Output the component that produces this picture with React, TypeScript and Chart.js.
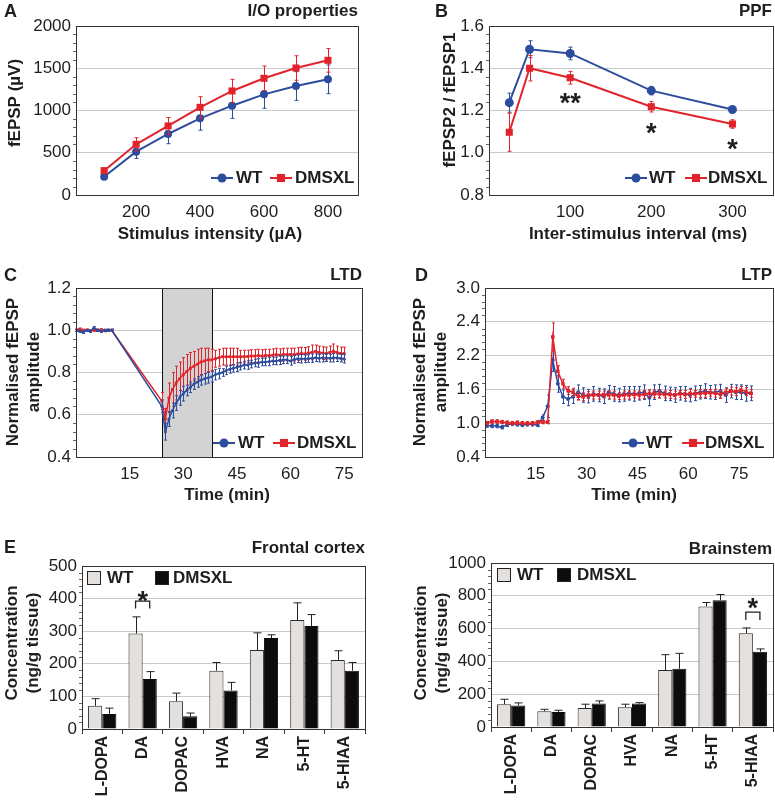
import React, { useEffect, useRef } from 'react';
import { Chart, registerables } from 'chart.js';

Chart.register(...registerables);

const FONT = "'Liberation Sans', Arial, Helvetica, sans-serif";
const INK = '#1e1e1e';
const BLUE = '#2c4d9e';
const RED = '#e1232b';
const GRID = '#c9c9c9';
const AXIS = '#333333';

// ---------- Panel A: I/O properties ----------
const A_X = [100, 200, 300, 400, 500, 600, 700, 800];
const A_WT = [217, 513, 722, 907, 1057, 1191, 1290, 1369];
const A_WT_ERR = [25, 80, 115, 140, 150, 165, 170, 170];
const A_DM = [288, 600, 817, 1037, 1231, 1381, 1503, 1594];
const A_DM_ERR = [30, 78, 100, 127, 138, 145, 145, 140];
const A_X_TICKS = [200, 400, 600, 800];
const A_Y_TICKS = [0, 500, 1000, 1500, 2000];

// ---------- Panel B: PPF ----------
const B_X = [25, 50, 100, 200, 300];
const B_WT = [1.237, 1.49, 1.47, 1.294, 1.205];
const B_WT_ERR = [0.045, 0.04, 0.03, 0.02, 0.012];
const B_DM = [1.097, 1.4, 1.355, 1.218, 1.136];
const B_DM_ERR = [0.09, 0.06, 0.03, 0.025, 0.02];
const B_X_TICKS = [100, 200, 300];
const B_Y_TICKS = [0.8, 1.0, 1.2, 1.4, 1.6];
const B_STARS = [
  { x: 100, y: 1.266, text: '**' },
  { x: 200, y: 1.127, text: '*' },
  { x: 300, y: 1.05, text: '*' },
];

// ---------- Panel C: LTD ----------
const C_T = [
  0, 1, 2, 3, 4, 5, 6, 7, 8, 9, 10,
  24, 25, 26, 27, 28, 29, 30, 31, 32, 33,
  34, 35, 36, 37, 38, 39, 40, 41, 42, 43,
  44, 45, 46, 47, 48, 49, 50, 51, 52, 53,
  54, 55, 56, 57, 58, 59, 60, 61, 62, 63,
  64, 65, 66, 67, 68, 69, 70, 71, 72, 73,
  74, 75,
];
const C_WT = [
  1.0, 0.995, 0.99, 1.0, 0.995, 1.012, 1.0, 0.995, 1.0, 1.0, 1.0,
  0.64, 0.52, 0.58, 0.62, 0.655, 0.68, 0.7, 0.715, 0.73, 0.745,
  0.755, 0.765, 0.77, 0.775, 0.78, 0.79, 0.795, 0.8, 0.81, 0.815,
  0.82, 0.825, 0.83, 0.835, 0.835, 0.84, 0.845, 0.845, 0.85, 0.85,
  0.852, 0.855, 0.855, 0.858, 0.86, 0.86, 0.855, 0.862, 0.865, 0.865,
  0.865, 0.866, 0.868, 0.87, 0.868, 0.87, 0.87, 0.868, 0.87, 0.87,
  0.868, 0.865,
];
const C_WT_ERR = [
  0.005, 0.005, 0.005, 0.005, 0.005, 0.005, 0.005, 0.005, 0.005, 0.005, 0.005,
  0.03, 0.04, 0.035, 0.035, 0.035, 0.035, 0.035, 0.025, 0.025, 0.025,
  0.025, 0.025, 0.025, 0.025, 0.025, 0.025, 0.025, 0.018, 0.02, 0.018,
  0.018, 0.02, 0.018, 0.018, 0.02, 0.018, 0.018, 0.02, 0.018, 0.018,
  0.02, 0.018, 0.018, 0.02, 0.018, 0.018, 0.02, 0.018, 0.018, 0.02,
  0.018, 0.018, 0.02, 0.018, 0.018, 0.02, 0.018, 0.018, 0.02, 0.018,
  0.018, 0.02,
];
const C_DM = [
  1.0, 1.005, 1.0, 1.0, 0.998, 1.0, 1.0, 1.002, 0.998, 1.0, 1.0,
  0.665, 0.58, 0.68, 0.72, 0.75, 0.77, 0.79, 0.805, 0.82, 0.83,
  0.84, 0.85, 0.855, 0.86, 0.86, 0.865, 0.87, 0.875, 0.875, 0.875,
  0.875, 0.875, 0.875, 0.875, 0.876, 0.878, 0.878, 0.88, 0.878, 0.88,
  0.88, 0.882, 0.885, 0.882, 0.885, 0.885, 0.885, 0.885, 0.888, 0.89,
  0.888, 0.892, 0.895, 0.9, 0.895, 0.892, 0.89, 0.895, 0.9, 0.895,
  0.89, 0.89,
];
const C_DM_ERR = [
  0.005, 0.005, 0.005, 0.005, 0.005, 0.005, 0.005, 0.005, 0.005, 0.005, 0.005,
  0.04, 0.05, 0.07, 0.08, 0.08, 0.08, 0.08, 0.08, 0.075, 0.07,
  0.07, 0.065, 0.06, 0.055, 0.05, 0.04, 0.04, 0.04, 0.04, 0.04,
  0.04, 0.04, 0.03, 0.03, 0.03, 0.03, 0.03, 0.03, 0.03, 0.03,
  0.03, 0.03, 0.03, 0.03, 0.03, 0.03, 0.03, 0.03, 0.03, 0.03,
  0.03, 0.03, 0.035, 0.03, 0.03, 0.03, 0.03, 0.03, 0.035, 0.03,
  0.03, 0.03,
];
const C_X_TICKS = [15, 30, 45, 60, 75];
const C_Y_TICKS = [0.4, 0.6, 0.8, 1.0, 1.2];
const C_BAND = [24, 38];

// ---------- Panel D: LTP ----------
const D_T = [
  0.5, 2, 3.5, 5, 6.5, 8, 9.5, 11, 12.5, 14, 15.5, 17, 18.5,
  20, 21.5, 23, 24.5, 26, 27.5, 29, 30.5, 32, 33.5, 35, 36.5, 38, 39.5,
  41, 42.5, 44, 45.5, 47, 48.5, 50, 51.5, 53, 54.5, 56, 57.5, 59, 60.5,
  62, 63.5, 65, 66.5, 68, 69.5, 71, 72.5, 74, 75.5, 77, 78.5,
];
const D_WT = [
  0.96, 0.95, 0.95, 0.93, 0.97, 0.99, 0.98, 0.97, 0.98, 0.98, 0.97, 1.1, 1.3,
  2.12, 1.7, 1.47, 1.43, 1.47, 1.55, 1.5, 1.48, 1.52, 1.5, 1.48, 1.55, 1.52, 1.5,
  1.52, 1.53, 1.52, 1.53, 1.55, 1.45, 1.55, 1.57, 1.53, 1.52, 1.5, 1.53, 1.52, 1.5,
  1.53, 1.55, 1.57, 1.55, 1.55, 1.57, 1.5, 1.57, 1.55, 1.55, 1.53, 1.53,
];
const D_WT_ERR = [
  0.03, 0.03, 0.03, 0.03, 0.03, 0.03, 0.03, 0.03, 0.03, 0.03, 0.03, 0.05, 0.2,
  0.2, 0.15, 0.12, 0.12, 0.12, 0.13, 0.13, 0.12, 0.13, 0.12, 0.13, 0.12, 0.13, 0.12,
  0.13, 0.12, 0.13, 0.12, 0.13, 0.14, 0.13, 0.12, 0.13, 0.12, 0.13, 0.12, 0.13, 0.12,
  0.13, 0.12, 0.13, 0.12, 0.13, 0.12, 0.13, 0.12, 0.13, 0.13, 0.14, 0.13,
];
const D_DM = [
  1.0, 1.03, 1.03, 1.02, 1.01, 1.0, 1.01, 1.0, 1.0, 1.0, 1.02, 1.02, 1.02,
  2.53, 1.92, 1.7, 1.58, 1.55, 1.48, 1.47, 1.5, 1.5, 1.5, 1.51, 1.5, 1.5, 1.48,
  1.5, 1.5, 1.51, 1.5, 1.51, 1.53, 1.52, 1.52, 1.51, 1.51, 1.5, 1.52, 1.51, 1.53,
  1.52, 1.53, 1.53, 1.54, 1.53, 1.51, 1.55, 1.57, 1.56, 1.59, 1.56, 1.53,
];
const D_DM_ERR = [
  0.03, 0.03, 0.03, 0.03, 0.03, 0.03, 0.03, 0.03, 0.03, 0.03, 0.03, 0.03, 0.03,
  0.25, 0.1, 0.08, 0.07, 0.07, 0.07, 0.07, 0.06, 0.07, 0.07, 0.06, 0.07, 0.07, 0.06,
  0.07, 0.07, 0.06, 0.07, 0.07, 0.06, 0.07, 0.07, 0.06, 0.07, 0.07, 0.06, 0.07, 0.07,
  0.06, 0.07, 0.07, 0.06, 0.07, 0.07, 0.06, 0.07, 0.07, 0.06, 0.07, 0.07,
];
const D_X_TICKS = [15, 30, 45, 60, 75];
const D_Y_TICKS = [0.4, 1.0, 1.6, 2.2, 2.8, 3.4];
const D_Y_LABELS = ['0.4', '1.0', '1.6', '2.2', '2.4', '3.0'];

// ---------- Panel E: monoamines ----------
const E_CATS = ['L-DOPA', 'DA', 'DOPAC', 'HVA', 'NA', '5-HT', '5-HIAA'];
const EF_WT = [71, 293, 85, 179, 242, 334, 212];
const EF_WT_ERR = [22, 51, 25, 25, 53, 53, 28];
const EF_DM = [46, 153, 39, 118, 279, 316, 179];
const EF_DM_ERR = [18, 23, 10, 25, 10, 35, 25];
const EF_Y_TICKS = [0, 100, 200, 300, 400, 500];
const EF_SIG = [{ index: 1, top: 392, leg: 370, star: 413 }];
const EB_WT = [139, 96, 116, 120, 347, 735, 571];
const EB_WT_ERR = [30, 12, 23, 19, 94, 24, 33];
const EB_DM = [131, 92, 143, 143, 355, 773, 459];
const EB_DM_ERR = [16, 10, 16, 6, 94, 35, 17];
const EB_Y_TICKS = [0, 200, 400, 600, 800, 1000];
const EB_SIG = [{ index: 6, top: 700, leg: 653, star: 765 }];

// ---------- layout ----------
type Area = { l: number; r: number; t: number; b: number };
type Panel = { left: number; top: number; w: number; h: number; area: Area };
const PANELS: Panel[] = [
  { left: 0, top: 0, w: 385, h: 265, area: { l: 76, r: 358, t: 26, b: 195 } },
  { left: 385, top: 0, w: 390, h: 265, area: { l: 104, r: 388, t: 26, b: 195 } },
  { left: 0, top: 265, w: 385, h: 255, area: { l: 76, r: 362, t: 23, b: 192 } },
  { left: 385, top: 265, w: 390, h: 255, area: { l: 100, r: 388, t: 23, b: 192 } },
  { left: 0, top: 520, w: 385, h: 280, area: { l: 82, r: 365, t: 46, b: 209 } },
  { left: 385, top: 520, w: 390, h: 280, area: { l: 106, r: 388, t: 43, b: 207 } },
];

type TextItem = { text: string; x: number; y: number; align?: CanvasTextAlign; size?: number; rot?: boolean };
type LegendItem = { x: number; tx: number; text: string; color: string; marker: 'circle' | 'rect' | 'box' };
type DecorCfg = {
  band?: number[];
  errMode: 'both' | 'up';
  cap: number;
  errColor?: string;
  legend?: { y: number; items: LegendItem[]; mk: number };
  texts: TextItem[];
  stars?: { x: number; y: number; text: string }[];
  starSize?: number;
  sig?: { index: number; top: number; leg: number; star: number }[];
};

function drawText(ctx: CanvasRenderingContext2D, t: TextItem) {
  ctx.save();
  ctx.font = `bold ${t.size ?? 17}px ${FONT}`;
  ctx.fillStyle = INK;
  ctx.textAlign = t.align ?? 'center';
  ctx.textBaseline = 'middle';
  ctx.translate(t.x, t.y);
  if (t.rot) ctx.rotate(-Math.PI / 2);
  ctx.fillText(t.text, 0, 0);
  ctx.restore();
}

function drawErrors(chart: any, index: number, cfg: DecorCfg) {
  const ds: any = chart.data.datasets[index];
  if (!ds.errors) return;
  const meta = chart.getDatasetMeta(index);
  const ys = chart.scales.y;
  const ctx: CanvasRenderingContext2D = chart.ctx;
  ctx.save();
  ctx.strokeStyle = cfg.errColor ?? ds.borderColor;
  ctx.lineWidth = 1;
  meta.data.forEach((el: any, j: number) => {
    const raw = ds.data[j];
    const v = typeof raw === 'object' ? raw.y : raw;
    const e = ds.errors[j];
    const top = ys.getPixelForValue(v + e);
    const bot = cfg.errMode === 'up' ? ys.getPixelForValue(v) : ys.getPixelForValue(v - e);
    const x = Math.round(el.x) + 0.5;
    ctx.beginPath();
    ctx.moveTo(x, top);
    ctx.lineTo(x, bot);
    ctx.moveTo(x - cfg.cap, top);
    ctx.lineTo(x + cfg.cap, top);
    if (cfg.errMode !== 'up') {
      ctx.moveTo(x - cfg.cap, bot);
      ctx.lineTo(x + cfg.cap, bot);
    }
    ctx.stroke();
  });
  ctx.restore();
}

function makeDecor(cfg: DecorCfg) {
  return {
    id: 'decor',
    beforeDatasetsDraw(chart: any) {
      if (!cfg.band) return;
      const { ctx, chartArea: ca } = chart;
      const xs = chart.scales.x;
      const x1 = Math.round(xs.getPixelForValue(cfg.band[0]));
      const x2 = Math.round(xs.getPixelForValue(cfg.band[1]));
      ctx.save();
      ctx.fillStyle = '#d3d3d3';
      ctx.fillRect(x1, ca.top, x2 - x1, ca.bottom - ca.top);
      ctx.strokeStyle = '#111';
      ctx.lineWidth = 1;
      ctx.beginPath();
      ctx.moveTo(x1 + 0.5, ca.top);
      ctx.lineTo(x1 + 0.5, ca.bottom);
      ctx.moveTo(x2 + 0.5, ca.top);
      ctx.lineTo(x2 + 0.5, ca.bottom);
      ctx.stroke();
      ctx.restore();
    },
    beforeDatasetDraw(chart: any, args: any) {
      if (cfg.errMode === 'both') drawErrors(chart, args.index, cfg);
    },
    afterDatasetDraw(chart: any, args: any) {
      if (cfg.errMode === 'up') drawErrors(chart, args.index, cfg);
    },
    afterDraw(chart: any) {
      const ctx: CanvasRenderingContext2D = chart.ctx;
      const ca = chart.chartArea;
      const ys = chart.scales.y;
      ctx.save();
      // frame
      ctx.strokeStyle = AXIS;
      ctx.lineWidth = 1;
      ctx.strokeRect(ca.left + 0.5, ca.top + 0.5, ca.right - ca.left, ca.bottom - ca.top);
      // minor ticks on the value axis
      ctx.strokeStyle = '#666';
      ctx.beginPath();
      const tv = ys.ticks.map((t: any) => t.value);
      for (let i = 0; i < tv.length - 1; i++) {
        const p0 = ys.getPixelForValue(tv[i]);
        const p1 = ys.getPixelForValue(tv[i + 1]);
        for (let k = 1; k < 5; k++) {
          const y = Math.round(p0 + ((p1 - p0) * k) / 5) + 0.5;
          ctx.moveTo(ca.left - 3, y);
          ctx.lineTo(ca.left, y);
        }
      }
      ctx.stroke();
      ctx.restore();

      // significance brackets (bar panels)
      if (cfg.sig) {
        const m0 = chart.getDatasetMeta(0);
        const m1 = chart.getDatasetMeta(1);
        cfg.sig.forEach((s) => {
          const x1 = m0.data[s.index].x;
          const x2 = m1.data[s.index].x;
          const yt = ys.getPixelForValue(s.top);
          const yl = ys.getPixelForValue(s.leg);
          ctx.save();
          ctx.strokeStyle = '#222';
          ctx.lineWidth = 1.3;
          ctx.beginPath();
          ctx.moveTo(x1, yl);
          ctx.lineTo(x1, yt);
          ctx.lineTo(x2, yt);
          ctx.lineTo(x2, yl);
          ctx.stroke();
          ctx.restore();
          const size = cfg.starSize ?? 26;
          ctx.save();
          ctx.font = `bold ${size}px ${FONT}`;
          ctx.fillStyle = INK;
          ctx.textAlign = 'center';
          ctx.textBaseline = 'alphabetic';
          ctx.fillText('*', (x1 + x2) / 2, ys.getPixelForValue(s.star) + size * 0.58);
          ctx.restore();
        });
      }
      // stars in data coordinates
      if (cfg.stars) {
        const xs = chart.scales.x;
        const size = cfg.starSize ?? 26;
        ctx.save();
        ctx.font = `bold ${size}px ${FONT}`;
        ctx.fillStyle = INK;
        ctx.textAlign = 'center';
        ctx.textBaseline = 'alphabetic';
        cfg.stars.forEach((s) => {
          ctx.fillText(s.text, xs.getPixelForValue(s.x), ys.getPixelForValue(s.y) + size * 0.58);
        });
        ctx.restore();
      }
      // legend
      if (cfg.legend) {
        const lg = cfg.legend;
        lg.items.forEach((it) => {
          ctx.save();
          if (it.marker === 'box') {
            ctx.fillStyle = it.color;
            ctx.fillRect(it.x, lg.y - 7, 14, 14);
            ctx.strokeStyle = '#222';
            ctx.lineWidth = 1;
            ctx.strokeRect(it.x + 0.5, lg.y - 6.5, 13, 13);
          } else {
            ctx.strokeStyle = it.color;
            ctx.fillStyle = it.color;
            ctx.lineWidth = 2;
            ctx.beginPath();
            ctx.moveTo(it.x, lg.y);
            ctx.lineTo(it.x + 22, lg.y);
            ctx.stroke();
            const cx = it.x + 11;
            if (it.marker === 'circle') {
              ctx.beginPath();
              ctx.arc(cx, lg.y, lg.mk, 0, Math.PI * 2);
              ctx.fill();
            } else {
              const s = lg.mk * 0.9;
              ctx.fillRect(cx - s, lg.y - s, 2 * s, 2 * s);
            }
          }
          ctx.restore();
          drawText(ctx, { text: it.text, x: it.tx, y: lg.y, align: 'left', size: 17 });
        });
      }
      cfg.texts.forEach((t) => drawText(ctx, t));
    },
  };
}

function yScale(p: Panel, ticks: number[], fmt: (v: number, i: number) => string) {
  return {
    type: 'linear',
    min: ticks[0],
    max: ticks[ticks.length - 1],
    afterFit: (s: any) => {
      s.width = p.area.l;
    },
    afterBuildTicks: (s: any) => {
      s.ticks = ticks.map((v) => ({ value: v }));
    },
    grid: { color: GRID, drawTicks: false, lineWidth: 1 },
    border: { display: false },
    ticks: { padding: 5, color: INK, font: { size: 17, family: FONT }, callback: (v: number, i: number) => fmt(v, i) },
  };
}

function xLinear(p: Panel, ticks: number[], min: number, max: number) {
  return {
    type: 'linear',
    min,
    max,
    afterFit: (s: any) => {
      s.height = p.h - p.area.b;
    },
    afterBuildTicks: (s: any) => {
      s.ticks = ticks.map((v) => ({ value: v }));
    },
    grid: { display: false, drawTicks: false },
    border: { display: false },
    ticks: { padding: 7, color: INK, maxRotation: 0, font: { size: 17, family: FONT }, callback: (v: number) => String(v) },
  };
}

function xCategory(p: Panel) {
  return {
    type: 'category',
    afterFit: (s: any) => {
      s.height = p.h - p.area.b;
    },
    grid: { display: true, drawOnChartArea: false, drawTicks: true, tickLength: 5, color: AXIS, offset: true },
    border: { display: false },
    ticks: {
      padding: 2,
      minRotation: 90,
      maxRotation: 90,
      autoSkip: false,
      color: INK,
      font: { size: 16, weight: 'bold', family: FONT },
    },
  };
}

function baseOptions(p: Panel, x: any, y: any) {
  return {
    responsive: false,
    maintainAspectRatio: false,
    animation: false,
    devicePixelRatio: 1,
    events: [],
    layout: { padding: { left: 0, top: p.area.t, right: p.w - p.area.r, bottom: 0 }, autoPadding: false },
    plugins: { legend: { display: false }, tooltip: { enabled: false }, title: { display: false } },
    scales: { x, y },
  };
}

function lineDs(label: string, xs: number[], ys: number[], errs: number[], color: string, style: string, radius: number, width: number, order: number) {
  return {
    label,
    data: xs.map((x, i) => ({ x, y: ys[i] })),
    errors: errs,
    borderColor: color,
    backgroundColor: color,
    pointBackgroundColor: color,
    pointBorderColor: color,
    pointBorderWidth: 0,
    pointStyle: style,
    pointRadius: radius,
    borderWidth: width,
    tension: 0,
    order,
  };
}

function barDs(label: string, vals: number[], errs: number[], fill: string, border: string) {
  return {
    label,
    data: vals,
    errors: errs,
    backgroundColor: fill,
    borderColor: border,
    borderWidth: 1,
    categoryPercentage: 0.7,
    barPercentage: 1.0,
  };
}

const fmtInt = (v: number) => String(v);
const fmt1 = (v: number) => v.toFixed(1);

function buildCharts(canvases: HTMLCanvasElement[]) {
  const [pA, pB, pC, pD, pE, pF] = PANELS;
  const charts: Chart[] = [];

  charts.push(
    new Chart(canvases[0], {
      type: 'line',
      data: {
        datasets: [
          lineDs('WT', A_X, A_WT, A_WT_ERR, BLUE, 'circle', 4, 2, 1),
          lineDs('DMSXL', A_X, A_DM, A_DM_ERR, RED, 'rect', 5, 2, 0),
        ] as any,
      },
      options: baseOptions(pA, xLinear(pA, A_X_TICKS, 12, 894), yScale(pA, A_Y_TICKS, fmtInt)) as any,
      plugins: [
        makeDecor({
          errMode: 'both',
          cap: 2,
          legend: {
            y: 178,
            mk: 4.5,
            items: [
              { x: 211, tx: 236, text: 'WT', color: BLUE, marker: 'circle' },
              { x: 270, tx: 295, text: 'DMSXL', color: RED, marker: 'rect' },
            ],
          },
          texts: [
            { text: 'A', x: 4, y: 12, align: 'left', size: 18 },
            { text: 'I/O properties', x: 358, y: 11, align: 'right' },
            { text: 'fEPSP (µV)', x: 15, y: 103, rot: true },
            { text: 'Stimulus intensity (µA)', x: 210, y: 234 },
          ],
        }) as any,
      ],
    })
  );

  charts.push(
    new Chart(canvases[1], {
      type: 'line',
      data: {
        datasets: [
          lineDs('WT', B_X, B_WT, B_WT_ERR, BLUE, 'circle', 4.5, 2, 1),
          lineDs('DMSXL', B_X, B_DM, B_DM_ERR, RED, 'rect', 5, 2, 0),
        ] as any,
      },
      options: baseOptions(pB, xLinear(pB, B_X_TICKS, 0, 350), yScale(pB, B_Y_TICKS, fmt1)) as any,
      plugins: [
        makeDecor({
          errMode: 'both',
          cap: 2,
          stars: B_STARS,
          starSize: 27,
          legend: {
            y: 178,
            mk: 4.5,
            items: [
              { x: 240, tx: 264, text: 'WT', color: BLUE, marker: 'circle' },
              { x: 300, tx: 323, text: 'DMSXL', color: RED, marker: 'rect' },
            ],
          },
          texts: [
            { text: 'B', x: 50, y: 12, align: 'left', size: 18 },
            { text: 'PPF', x: 387, y: 11, align: 'right' },
            { text: 'fEPSP2 / fEPSP1', x: 65, y: 100, rot: true },
            { text: 'Inter-stimulus interval (ms)', x: 253, y: 234 },
          ],
        }) as any,
      ],
    })
  );

  charts.push(
    new Chart(canvases[2], {
      type: 'line',
      data: {
        datasets: [
          lineDs('WT', C_T, C_WT, C_WT_ERR, BLUE, 'circle', 1.5, 1.5, 0),
          lineDs('DMSXL', C_T, C_DM, C_DM_ERR, RED, 'rect', 2, 1.5, 1),
        ] as any,
      },
      options: baseOptions(pC, xLinear(pC, C_X_TICKS, 0, 80), yScale(pC, C_Y_TICKS, fmt1)) as any,
      plugins: [
        makeDecor({
          band: C_BAND,
          errMode: 'both',
          cap: 1.5,
          legend: {
            y: 178,
            mk: 4.5,
            items: [
              { x: 213, tx: 238, text: 'WT', color: BLUE, marker: 'circle' },
              { x: 273, tx: 297, text: 'DMSXL', color: RED, marker: 'rect' },
            ],
          },
          texts: [
            { text: 'C', x: 4, y: 11, align: 'left', size: 18 },
            { text: 'LTD', x: 362, y: 10, align: 'right' },
            { text: 'Normalised fEPSP', x: 13, y: 107, rot: true },
            { text: 'amplitude', x: 34, y: 107, rot: true },
            { text: 'Time (min)', x: 227, y: 230 },
          ],
        }) as any,
      ],
    })
  );

  charts.push(
    new Chart(canvases[3], {
      type: 'line',
      data: {
        datasets: [
          lineDs('WT', D_T, D_WT, D_WT_ERR, BLUE, 'circle', 2, 1.5, 1),
          lineDs('DMSXL', D_T, D_DM, D_DM_ERR, RED, 'rect', 2.5, 1.5, 0),
        ] as any,
      },
      options: baseOptions(pD, xLinear(pD, D_X_TICKS, 0, 85), yScale(pD, D_Y_TICKS, (_v, i) => D_Y_LABELS[i])) as any,
      plugins: [
        makeDecor({
          errMode: 'both',
          cap: 1.5,
          legend: {
            y: 178,
            mk: 4.5,
            items: [
              { x: 237, tx: 261, text: 'WT', color: BLUE, marker: 'circle' },
              { x: 297, tx: 320, text: 'DMSXL', color: RED, marker: 'rect' },
            ],
          },
          texts: [
            { text: 'D', x: 30, y: 11, align: 'left', size: 18 },
            { text: 'LTP', x: 387, y: 10, align: 'right' },
            { text: 'Normalised fEPSP', x: 35, y: 107, rot: true },
            { text: 'amplitude', x: 56, y: 107, rot: true },
            { text: 'Time (min)', x: 249, y: 230 },
          ],
        }) as any,
      ],
    })
  );

  charts.push(
    new Chart(canvases[4], {
      type: 'bar',
      data: {
        labels: E_CATS,
        datasets: [barDs('WT', EF_WT, EF_WT_ERR, '#e3e0de', '#2a2a2a'), barDs('DMSXL', EF_DM, EF_DM_ERR, '#0c0c0c', '#0c0c0c')] as any,
      },
      options: baseOptions(pE, xCategory(pE), yScale(pE, EF_Y_TICKS, fmtInt)) as any,
      plugins: [
        makeDecor({
          errMode: 'up',
          cap: 4,
          errColor: '#222',
          sig: EF_SIG,
          starSize: 27,
          legend: {
            y: 58,
            mk: 4,
            items: [
              { x: 87, tx: 107, text: 'WT', color: '#e3e0de', marker: 'box' },
              { x: 155, tx: 173, text: 'DMSXL', color: '#0c0c0c', marker: 'box' },
            ],
          },
          texts: [
            { text: 'E', x: 4, y: 28, align: 'left', size: 18 },
            { text: 'Frontal cortex', x: 365, y: 28, align: 'right' },
            { text: 'Concentration', x: 12, y: 123, rot: true },
            { text: '(ng/g tissue)', x: 33, y: 123, rot: true },
          ],
        }) as any,
      ],
    })
  );

  charts.push(
    new Chart(canvases[5], {
      type: 'bar',
      data: {
        labels: E_CATS,
        datasets: [barDs('WT', EB_WT, EB_WT_ERR, '#e3e0de', '#2a2a2a'), barDs('DMSXL', EB_DM, EB_DM_ERR, '#0c0c0c', '#0c0c0c')] as any,
      },
      options: baseOptions(pF, xCategory(pF), yScale(pF, EB_Y_TICKS, fmtInt)) as any,
      plugins: [
        makeDecor({
          errMode: 'up',
          cap: 4,
          errColor: '#222',
          sig: EB_SIG,
          starSize: 27,
          legend: {
            y: 55,
            mk: 4,
            items: [
              { x: 112, tx: 132, text: 'WT', color: '#e3e0de', marker: 'box' },
              { x: 172, tx: 192, text: 'DMSXL', color: '#0c0c0c', marker: 'box' },
            ],
          },
          texts: [
            { text: 'Brainstem', x: 387, y: 29, align: 'right' },
            { text: 'Concentration', x: 36, y: 123, rot: true },
            { text: '(ng/g tissue)', x: 57, y: 123, rot: true },
          ],
        }) as any,
      ],
    })
  );

  return charts;
}

export default function App() {
  const r0 = useRef<HTMLCanvasElement>(null);
  const r1 = useRef<HTMLCanvasElement>(null);
  const r2 = useRef<HTMLCanvasElement>(null);
  const r3 = useRef<HTMLCanvasElement>(null);
  const r4 = useRef<HTMLCanvasElement>(null);
  const r5 = useRef<HTMLCanvasElement>(null);
  const refs = [r0, r1, r2, r3, r4, r5];

  useEffect(() => {
    const canvases = refs.map((r) => r.current as HTMLCanvasElement);
    const charts = buildCharts(canvases);
    return () => charts.forEach((c) => c.destroy());
  }, []);

  return (
    <div style={{ position: 'fixed', left: 0, top: 0, width: 775, height: 800, background: '#ffffff', overflow: 'hidden' }}>
      {PANELS.map((p, i) => (
        <canvas
          key={i}
          ref={refs[i]}
          width={p.w}
          height={p.h}
          style={{ position: 'absolute', left: p.left, top: p.top, width: p.w, height: p.h }}
        />
      ))}
    </div>
  );
}
